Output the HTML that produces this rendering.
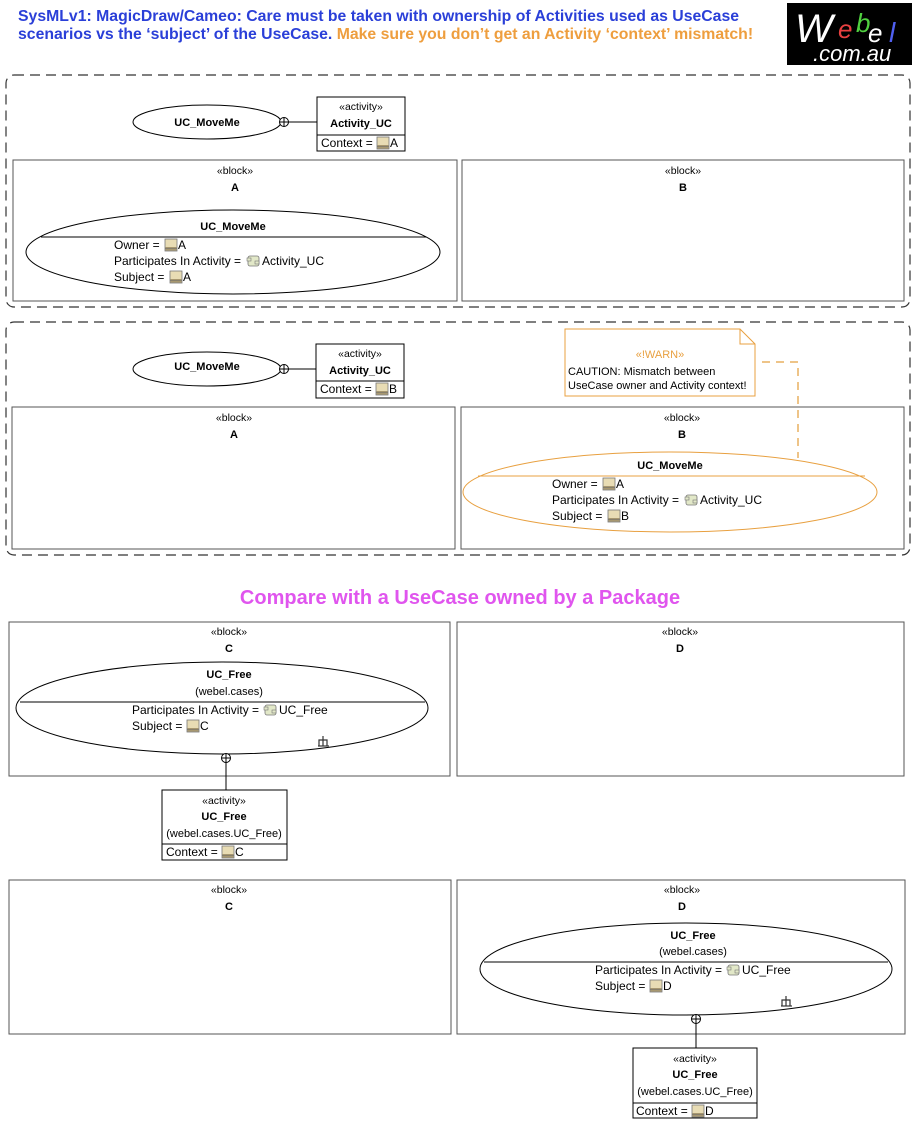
<!DOCTYPE html>
<html><head><meta charset="utf-8"><style>
html,body{margin:0;padding:0;background:#fff;}
svg{display:block;}
text{font-family:"Liberation Sans",Arial,sans-serif;}
</style></head><body>
<svg width="920" height="1127" viewBox="0 0 920 1127" xmlns="http://www.w3.org/2000/svg">
<defs>
<g id="bi"><rect x="0" y="0" width="12" height="12" fill="#e8dcb4" stroke="#777" stroke-width="0.8"/><rect x="0.5" y="8" width="11" height="3.5" fill="#a89870"/><line x1="0" y1="9.5" x2="12" y2="9.5" stroke="#666" stroke-width="0.5"/></g>
<g id="ai"><rect x="1" y="1" width="11" height="10" rx="2" fill="#e2e8c8" stroke="#777" stroke-width="0.8"/><rect x="0" y="3" width="4" height="3" fill="#e2e8c8" stroke="#777" stroke-width="0.6"/><rect x="8" y="6" width="4" height="3" fill="#e2e8c8" stroke="#777" stroke-width="0.6"/></g>
<g id="cp"><circle cx="0" cy="0" r="4.5" fill="#fff" stroke="#000" stroke-width="1"/><line x1="-4.5" y1="0" x2="4.5" y2="0" stroke="#000"/><line x1="0" y1="-4.5" x2="0" y2="4.5" stroke="#000"/></g>
<g id="fk" stroke="#333" stroke-width="1.2" fill="none"><line x1="0" y1="0" x2="0" y2="10"/><line x1="-5" y1="10" x2="6" y2="10"/><path d="M-4 10 V4 H4 V10"/></g>
</defs>

<!-- Title -->
<text x="18" y="21" font-size="15.8" font-weight="bold" fill="#2a3fd8">SysMLv1: MagicDraw/Cameo: Care must be taken with ownership of Activities used as UseCase</text>
<text x="18" y="39" font-size="15.8" font-weight="bold" fill="#2a3fd8">scenarios vs the ‘subject’ of the UseCase. <tspan fill="#ee9e3e">Make sure you don’t get an Activity ‘context’ mismatch!</tspan></text>

<!-- Logo -->
<rect x="787" y="3" width="125" height="62" fill="#000"/>
<text x="795" y="42" font-size="40" font-style="italic" fill="#fff">W</text>
<text x="838" y="38" font-size="26" font-style="italic" fill="#e84040">e</text>
<text x="856" y="32" font-size="26" font-style="italic" fill="#50d040">b</text>
<text x="868" y="42" font-size="26" font-style="italic" fill="#fff">e</text>
<text x="889" y="42" font-size="28" font-style="italic" fill="#5060f0">l</text>
<text x="813" y="61" font-size="22" font-style="italic" fill="#fff">.com.au</text>

<!-- Frame 1 -->
<rect x="6" y="75" width="904" height="232" rx="8" fill="none" stroke="#333" stroke-width="1.2" stroke-dasharray="10,6"/>
<ellipse cx="207" cy="122" rx="74" ry="17" fill="#fff" stroke="#000"/>
<text x="207" y="126" font-size="11" font-weight="bold" text-anchor="middle">UC_MoveMe</text>
<line x1="284" y1="122" x2="317" y2="122" stroke="#000"/>
<use href="#cp" x="284" y="122"/>
<rect x="317" y="97" width="88" height="54" fill="#fff" stroke="#000"/>
<line x1="317" y1="135" x2="405" y2="135" stroke="#000"/>
<text x="361" y="110" font-size="10.5" text-anchor="middle">«activity»</text>
<text x="361" y="127" font-size="11" font-weight="bold" text-anchor="middle">Activity_UC</text>
<text x="321" y="147" font-size="12">Context = </text><use href="#bi" x="377" y="137"/><text x="390" y="147" font-size="12">A</text>

<rect x="13" y="160" width="444" height="141" fill="#fff" stroke="#555"/>
<text x="235" y="174" font-size="10.5" text-anchor="middle">«block»</text>
<text x="235" y="191" font-size="11" font-weight="bold" text-anchor="middle">A</text>
<rect x="462" y="160" width="442" height="141" fill="#fff" stroke="#555"/>
<text x="683" y="174" font-size="10.5" text-anchor="middle">«block»</text>
<text x="683" y="191" font-size="11" font-weight="bold" text-anchor="middle">B</text>

<ellipse cx="233" cy="252" rx="207" ry="42" fill="#fff" stroke="#000"/>
<line x1="41" y1="237" x2="426" y2="237" stroke="#000"/>
<text x="233" y="230" font-size="11" font-weight="bold" text-anchor="middle">UC_MoveMe</text>
<text x="114" y="249" font-size="12">Owner = </text><use href="#bi" x="165" y="239"/><text x="178" y="249" font-size="12">A</text>
<text x="114" y="265" font-size="12">Participates In Activity = </text><use href="#ai" x="247" y="255"/><text x="262" y="265" font-size="12">Activity_UC</text>
<text x="114" y="281" font-size="12">Subject = </text><use href="#bi" x="170" y="271"/><text x="183" y="281" font-size="12">A</text>

<!-- Frame 2 -->
<rect x="6" y="322" width="904" height="233" rx="8" fill="none" stroke="#333" stroke-width="1.2" stroke-dasharray="10,6"/>
<ellipse cx="207" cy="369" rx="74" ry="17" fill="#fff" stroke="#000"/>
<text x="207" y="370" font-size="11" font-weight="bold" text-anchor="middle">UC_MoveMe</text>
<line x1="284" y1="369" x2="316" y2="369" stroke="#000"/>
<use href="#cp" x="284" y="369"/>
<rect x="316" y="344" width="88" height="54" fill="#fff" stroke="#000"/>
<line x1="316" y1="381" x2="404" y2="381" stroke="#000"/>
<text x="360" y="357" font-size="10.5" text-anchor="middle">«activity»</text>
<text x="360" y="374" font-size="11" font-weight="bold" text-anchor="middle">Activity_UC</text>
<text x="320" y="393" font-size="12">Context = </text><use href="#bi" x="376" y="383"/><text x="389" y="393" font-size="12">B</text>

<rect x="12" y="407" width="443" height="142" fill="#fff" stroke="#555"/>
<text x="234" y="421" font-size="10.5" text-anchor="middle">«block»</text>
<text x="234" y="438" font-size="11" font-weight="bold" text-anchor="middle">A</text>
<rect x="461" y="407" width="443" height="142" fill="#fff" stroke="#555"/>
<text x="682" y="421" font-size="10.5" text-anchor="middle">«block»</text>
<text x="682" y="438" font-size="11" font-weight="bold" text-anchor="middle">B</text>

<!-- note -->
<path d="M565 329 H740 L755 344 V396 H565 Z" fill="#fff" stroke="#e8a040"/>
<path d="M740 329 V344 H755" fill="none" stroke="#e8a040"/>
<text x="660" y="358" font-size="11" fill="#e8a040" text-anchor="middle">«!WARN»</text>
<text x="568" y="375" font-size="11">CAUTION: Mismatch between</text>
<text x="568" y="389" font-size="11">UseCase owner and Activity context!</text>
<path d="M762 362 H798 V458" fill="none" stroke="#e8b060" stroke-width="1.5" stroke-dasharray="8,6"/>

<ellipse cx="670" cy="492" rx="207" ry="40" fill="#fff" stroke="#e8a040"/>
<line x1="478" y1="476" x2="865" y2="476" stroke="#e8a040"/>
<text x="670" y="469" font-size="11" font-weight="bold" text-anchor="middle">UC_MoveMe</text>
<text x="552" y="488" font-size="12">Owner = </text><use href="#bi" x="603" y="478"/><text x="616" y="488" font-size="12">A</text>
<text x="552" y="504" font-size="12">Participates In Activity = </text><use href="#ai" x="685" y="494"/><text x="700" y="504" font-size="12">Activity_UC</text>
<text x="552" y="520" font-size="12">Subject = </text><use href="#bi" x="608" y="510"/><text x="621" y="520" font-size="12">B</text>

<!-- heading -->
<text x="460" y="604" font-size="20" font-weight="bold" fill="#e055ee" text-anchor="middle">Compare with a UseCase owned by a Package</text>

<!-- C / D row 1 -->
<rect x="9" y="622" width="441" height="154" fill="#fff" stroke="#555"/>
<text x="229" y="635" font-size="10.5" text-anchor="middle">«block»</text>
<text x="229" y="652" font-size="11" font-weight="bold" text-anchor="middle">C</text>
<rect x="457" y="622" width="447" height="154" fill="#fff" stroke="#555"/>
<text x="680" y="635" font-size="10.5" text-anchor="middle">«block»</text>
<text x="680" y="652" font-size="11" font-weight="bold" text-anchor="middle">D</text>

<ellipse cx="222" cy="708" rx="206" ry="46" fill="#fff" stroke="#000"/>
<line x1="20" y1="702" x2="425" y2="702" stroke="#000"/>
<text x="229" y="678" font-size="11" font-weight="bold" text-anchor="middle">UC_Free</text>
<text x="229" y="695" font-size="11" text-anchor="middle">(webel.cases)</text>
<text x="132" y="714" font-size="12">Participates In Activity = </text><use href="#ai" x="264" y="704"/><text x="279" y="714" font-size="12">UC_Free</text>
<text x="132" y="730" font-size="12">Subject = </text><use href="#bi" x="187" y="720"/><text x="200" y="730" font-size="12">C</text>
<use href="#fk" x="323" y="736"/>
<line x1="226" y1="762" x2="226" y2="790" stroke="#000"/>
<use href="#cp" x="226" y="758"/>
<rect x="162" y="790" width="125" height="70" fill="#fff" stroke="#000"/>
<line x1="162" y1="844" x2="287" y2="844" stroke="#000"/>
<text x="224" y="804" font-size="10.5" text-anchor="middle">«activity»</text>
<text x="224" y="820" font-size="11" font-weight="bold" text-anchor="middle">UC_Free</text>
<text x="224" y="837" font-size="11" text-anchor="middle">(webel.cases.UC_Free)</text>
<text x="166" y="856" font-size="12">Context = </text><use href="#bi" x="222" y="846"/><text x="235" y="856" font-size="12">C</text>

<!-- C / D row 2 -->
<rect x="9" y="880" width="442" height="154" fill="#fff" stroke="#555"/>
<text x="229" y="893" font-size="10.5" text-anchor="middle">«block»</text>
<text x="229" y="910" font-size="11" font-weight="bold" text-anchor="middle">C</text>
<rect x="457" y="880" width="448" height="154" fill="#fff" stroke="#555"/>
<text x="682" y="893" font-size="10.5" text-anchor="middle">«block»</text>
<text x="682" y="910" font-size="11" font-weight="bold" text-anchor="middle">D</text>

<ellipse cx="686" cy="969" rx="206" ry="46" fill="#fff" stroke="#000"/>
<line x1="484" y1="962" x2="888" y2="962" stroke="#000"/>
<text x="693" y="939" font-size="11" font-weight="bold" text-anchor="middle">UC_Free</text>
<text x="693" y="955" font-size="11" text-anchor="middle">(webel.cases)</text>
<text x="595" y="974" font-size="12">Participates In Activity = </text><use href="#ai" x="727" y="964"/><text x="742" y="974" font-size="12">UC_Free</text>
<text x="595" y="990" font-size="12">Subject = </text><use href="#bi" x="650" y="980"/><text x="663" y="990" font-size="12">D</text>
<use href="#fk" x="786" y="996"/>
<line x1="696" y1="1023" x2="696" y2="1048" stroke="#000"/>
<use href="#cp" x="696" y="1019"/>
<rect x="633" y="1048" width="124" height="70" fill="#fff" stroke="#000"/>
<line x1="633" y1="1103" x2="757" y2="1103" stroke="#000"/>
<text x="695" y="1062" font-size="10.5" text-anchor="middle">«activity»</text>
<text x="695" y="1078" font-size="11" font-weight="bold" text-anchor="middle">UC_Free</text>
<text x="695" y="1095" font-size="11" text-anchor="middle">(webel.cases.UC_Free)</text>
<text x="636" y="1115" font-size="12">Context = </text><use href="#bi" x="692" y="1105"/><text x="705" y="1115" font-size="12">D</text>
</svg>
</body></html>
